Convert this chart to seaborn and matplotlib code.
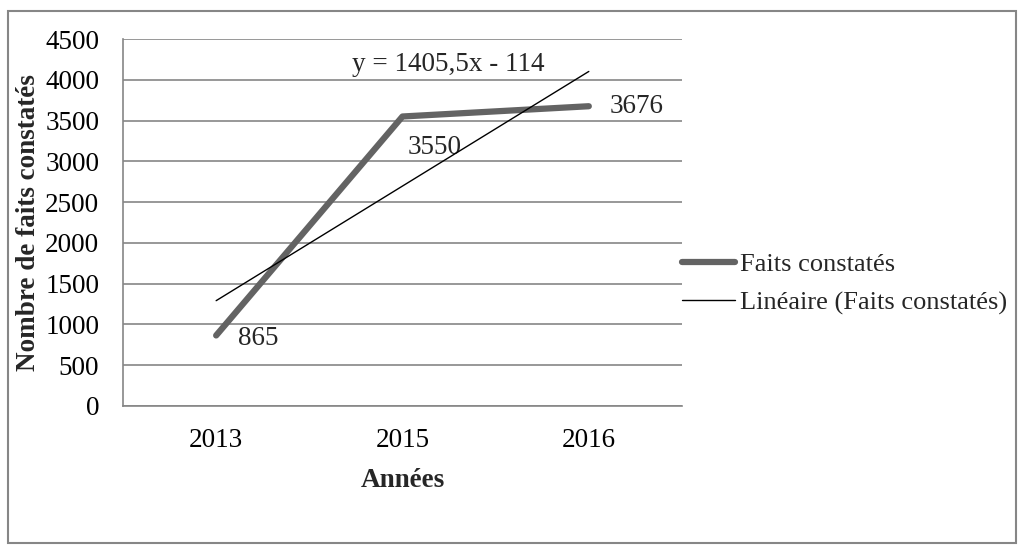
import matplotlib
matplotlib.use("Agg")
import matplotlib.pyplot as plt
from matplotlib.patches import Rectangle
import seaborn as sns
import pandas as pd
import numpy as np

# chart data
years = ["2013", "2015", "2016"]
faits = [865, 3550, 3676]
y_ticks = [0, 500, 1000, 1500, 2000, 2500, 3000, 3500, 4000, 4500]

GRID_GRAY = "#868686"
LINE_GRAY = "#636363"
FONT_L = 19.5

sns.set_theme(style="white")
plt.rcParams["font.family"] = ["Liberation Serif", "DejaVu Serif"]

df = pd.DataFrame({"pos": np.arange(len(years)), "faits": faits})

# Excel style linear trend (x = 1, 2, 3)
slope, intercept = np.polyfit(df["pos"] + 1, df["faits"], 1)
df["trend"] = slope * (df["pos"] + 1) + intercept

fig = plt.figure(figsize=(10.24, 5.52), dpi=100)
ax = fig.add_axes([0.1201, 0.2645, 0.5459, 0.6648])

sns.lineplot(data=df, x="pos", y="faits", ax=ax, color=LINE_GRAY,
             linewidth=4.5, solid_capstyle="round", label="Faits constatés",
             legend=False, zorder=3)
sns.lineplot(data=df, x="pos", y="trend", ax=ax, color="black",
             linewidth=1.0, label="Linéaire (Faits constatés)",
             legend=False, zorder=4)

# data labels
offsets = [(16, -2), (4, -22), (15, 0)]
for (i, v), off in zip(enumerate(faits), offsets):
    ax.annotate(str(v), (i, v), xytext=off, textcoords="offset points",
                ha="left", va="center", fontsize=FONT_L)

sign = "-" if intercept < 0 else "+"
eq = "y = {}x {} {}".format(f"{slope:.1f}".replace(".", ","), sign,
                            f"{abs(intercept):.0f}")
ax.text(0.41, 0.93, eq, transform=ax.transAxes, fontsize=FONT_L,
        ha="left", va="center")

ax.set_xlim(-0.5, 2.5)
ax.set_ylim(0, 4500)
ax.set_xticks(df["pos"])
ax.set_xticklabels(years)
ax.set_yticks(y_ticks)
ax.yaxis.grid(True, color=GRID_GRAY, linewidth=1.2)
ax.xaxis.grid(False)
ax.tick_params(axis="both", length=0, colors="black", labelsize=FONT_L)
ax.tick_params(axis="y", pad=17)
ax.tick_params(axis="x", pad=16)

for position in ["right", "top"]:
    ax.spines[position].set_visible(False)
for position in ["left", "bottom"]:
    ax.spines[position].set_color(GRID_GRAY)
    ax.spines[position].set_linewidth(1.2)

ax.set_xlabel("Années", fontsize=FONT_L, fontweight="bold", labelpad=11)
ax.set_ylabel("Nombre de faits constatés", fontsize=FONT_L,
              fontweight="bold", labelpad=3)

handles, labels = ax.get_legend_handles_labels()
fig.legend(handles, labels, loc="center left", bbox_to_anchor=(0.643, 0.486),
           frameon=False, fontsize=19, handlelength=2.0,
           handletextpad=0.2, labelspacing=0.56)

# outer chart frame
fig.patches.append(Rectangle((8 / 1024, 1 - 543 / 552), 1008 / 1024, 532 / 552,
                             transform=fig.transFigure, fill=False,
                             edgecolor=GRID_GRAY, linewidth=1.5))

fig.savefig("out.png", dpi=100)
